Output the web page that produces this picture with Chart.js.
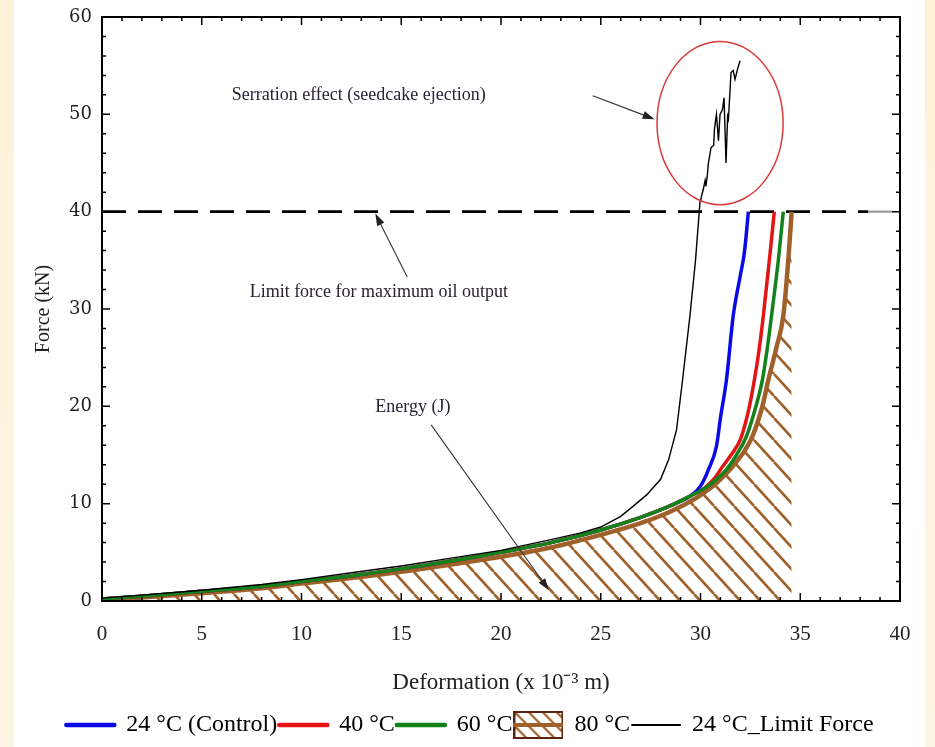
<!DOCTYPE html>
<html>
<head>
<meta charset="utf-8">
<script src="https://cdn.jsdelivr.net/npm/chart.js@4.4.1/dist/chart.umd.min.js"></script>
<style>
html, body { margin: 0; padding: 0; }
body { width: 935px; height: 747px; overflow: hidden; position: relative;
       background: linear-gradient(to bottom, #fdf1d8, #fdf5e3); }
#wrap { position: absolute; left: 14px; top: 0; width: 911px; height: 747px; background: #fff; }
</style>
</head>
<body>
<div id="wrap"><canvas id="c"></canvas></div>
<script>
// ---- data (x: deformation x10^-3 m, y: force kN) ----
const control24 = [[0,0.2],[2,0.5],[5,1.0],[8,1.5],[10,2.0],[12.5,2.6],[15,3.3],[17.5,4.1],[20,5.0],[22.5,6.0],
  [25,7.3],[27,8.6],[28.5,9.8],[29.5,10.8],[30.0,11.8],[30.4,13.5],[30.8,15.9],[31.0,18.8],[31.3,22.7],
  [31.64,29.3],[32.0,33.5],[32.2,35.8],[32.4,40]];
const temp40 = [[0,0.2],[2,0.5],[5,1.0],[8,1.5],[10,2.0],[12.5,2.6],[15,3.3],[17.5,4.1],[20,5.0],[22.5,6.0],
  [25,7.3],[27,8.6],[28.5,9.8],[29.5,10.8],[30.2,11.6],[30.7,12.6],[31.1,13.8],[31.6,15.2],[32.0,16.6],
  [32.4,19.5],[32.7,22.7],[32.95,26],[33.15,29.3],[33.45,35],[33.7,40]];
const temp60 = [[0,0.2],[2,0.5],[5,1.0],[8,1.5],[10,2.0],[12.5,2.6],[15,3.3],[17.5,4.1],[20,5.0],[22.5,6.0],
  [25,7.3],[27,8.6],[28.5,9.8],[29.5,10.8],[30.3,11.7],[30.8,12.5],[31.3,13.5],[31.8,15.0],[32.3,16.9],
  [32.75,19.8],[33.1,22.7],[33.35,26],[33.56,29.3],[33.9,35],[34.15,40]];
const temp80 = [[0,0.1],[2,0.35],[5,0.8],[8,1.3],[10,1.8],[12.5,2.35],[15,3.0],[17.5,3.75],[20,4.55],[22.5,5.5],
  [25,6.8],[27,8.0],[28.5,9.2],[29.8,10.6],[30.5,11.6],[31.0,12.5],[31.6,13.8],[32.2,15.4],[32.6,16.9],
  [33.1,20.0],[33.4,22.7],[33.8,26.0],[34.15,29.3],[34.4,35],[34.57,40]];
const limit24 = [[0,0.3],[2,0.6],[5,1.1],[8,1.7],[10,2.2],[12.5,2.9],[15,3.6],[17.5,4.4],[20,5.2],[22.5,6.3],
  [24,7.0],[25,7.6],[26,8.7],[26.6,9.7],[27.3,10.9],[28,12.5],[28.4,14.5],[28.8,17.6],[29.1,22.7],[29.47,29.3],
  [29.75,35],[29.97,40.9],[30.14,42.3],[30.23,43.2],[30.27,42.6],[30.34,43.7],[30.39,44.9],[30.53,46.6],
  [30.66,46.8],[30.7,48.5],[30.8,50.0],[30.9,47.3],[30.98,50.0],[31.1,50.5],[31.18,51.7],[31.28,45.0],
  [31.36,49.8],[31.4,49.5],[31.53,54.3],[31.64,54.5],[31.73,53.6],[31.85,54.6],[31.98,55.5]];
const limitLine = [[0,40],[38.4,40]];
const limitLineEnd = [[38.4,40],[40,40]];

const legendNames = ['24 °C (Control)', '40 °C', '60 °C', '80 °C', '24 °C_Limit Force'];
const xTickStep = 5, yTickStep = 10;

const BLUE = '#0a0ae6', RED = '#e41414', GREEN = '#13821a', BROWN = '#a0602a', BLACK = '#000';
const SERIF = '"Liberation Serif", "Times New Roman", serif';

// ---- hatch pattern for the 80 °C energy area ----
const canvas = document.getElementById('c');
function hatchTile(w, h, lw) {
    const t = document.createElement('canvas');
    t.width = w; t.height = h;
    const g = t.getContext('2d');
    g.strokeStyle = BROWN; g.lineWidth = lw;
    [-w, 0, w].forEach(dx => { g.beginPath(); g.moveTo(dx, 0); g.lineTo(dx + w, h); g.stroke(); });
    return t;
}
const hatch = canvas.getContext('2d').createPattern(hatchTile(20, 22, 2.6), 'repeat');

// legend icon for 80 °C (hatched box with line through it)
function hatchIcon() {
    const c = document.createElement('canvas');
    c.width = 50; c.height = 28;
    const g = c.getContext('2d');
    g.fillStyle = g.createPattern(hatchTile(14, 14, 2.2), 'repeat');
    g.fillRect(1, 1, 48, 26);
    g.strokeStyle = '#5b2410'; g.lineWidth = 2;
    g.strokeRect(1, 1, 48, 26);
    g.strokeStyle = BROWN; g.lineWidth = 4;
    g.beginPath(); g.moveTo(0, 14); g.lineTo(50, 14); g.stroke();
    return c;
}

// ---- annotations ----
const notes = [
    { text: 'Serration effect (seedcake ejection)', at: [6.5, 52.0], from: [24.6, 51.9], to: [27.7, 49.5] },
    { text: 'Limit force for maximum oil output', at: [7.4, 31.7], from: [15.3, 33.3], to: [13.7, 39.8] },
    { text: 'Energy (J)', at: [13.7, 19.9], from: [16.5, 18.1], to: [22.4, 1.1] },
];
const circle = { c: [30.98, 49.1], r: [3.16, 8.39] };

const framePlugin = {
    id: 'frame',
    afterLayout(chart) {
        // legend in the original sits a little right of centre
        chart.legend.left += 13;
        chart.legend.right += 13;
    },
    afterDatasetsDraw(chart) {
        const { ctx, chartArea: a, scales: { x, y } } = chart;
        ctx.save();
        // red ellipse round the serration
        ctx.strokeStyle = '#d93a3a'; ctx.lineWidth = 1.5;
        ctx.beginPath();
        const cx = x.getPixelForValue(circle.c[0]), cy = y.getPixelForValue(circle.c[1]);
        ctx.ellipse(cx, cy, x.getPixelForValue(circle.c[0] + circle.r[0]) - cx,
            cy - y.getPixelForValue(circle.c[1] + circle.r[1]), 0, 0, Math.PI * 2);
        ctx.stroke();

        // text + arrows
        ctx.fillStyle = '#2a2230'; ctx.strokeStyle = '#333';
        ctx.font = '18px ' + SERIF;
        ctx.textBaseline = 'middle'; ctx.textAlign = 'left';
        notes.forEach(n => {
            ctx.fillText(n.text, x.getPixelForValue(n.at[0]), y.getPixelForValue(n.at[1]));
            const x1 = x.getPixelForValue(n.from[0]), y1 = y.getPixelForValue(n.from[1]);
            const x2 = x.getPixelForValue(n.to[0]), y2 = y.getPixelForValue(n.to[1]);
            const ang = Math.atan2(y2 - y1, x2 - x1);
            ctx.lineWidth = 1.1;
            ctx.beginPath(); ctx.moveTo(x1, y1); ctx.lineTo(x2 - Math.cos(ang) * 8, y2 - Math.sin(ang) * 8); ctx.stroke();
            ctx.beginPath();
            ctx.moveTo(x2, y2);
            ctx.lineTo(x2 - Math.cos(ang) * 12 + Math.sin(ang) * 4, y2 - Math.sin(ang) * 12 - Math.cos(ang) * 4);
            ctx.lineTo(x2 - Math.cos(ang) * 12 - Math.sin(ang) * 4, y2 - Math.sin(ang) * 12 + Math.cos(ang) * 4);
            ctx.closePath(); ctx.fillStyle = '#222'; ctx.fill();
            ctx.fillStyle = '#2a2230';
        });

        // frame with inward ticks
        ctx.strokeStyle = '#000'; ctx.lineWidth = 2;
        ctx.strokeRect(a.left, a.top, a.right - a.left, a.bottom - a.top);
        ctx.lineWidth = 1.5;
        ctx.beginPath();
        for (let v = x.min; v <= x.max; v += 1) {
            const px = x.getPixelForValue(v), len = v % xTickStep === 0 ? 8 : 4;
            ctx.moveTo(px, a.bottom); ctx.lineTo(px, a.bottom - len);
            ctx.moveTo(px, a.top); ctx.lineTo(px, a.top + len);
        }
        for (let v = y.min; v <= y.max; v += 2) {
            const py = y.getPixelForValue(v), len = v % yTickStep === 0 ? 8 : 4;
            ctx.moveTo(a.left, py); ctx.lineTo(a.left + len, py);
            ctx.moveTo(a.right, py); ctx.lineTo(a.right - len, py);
        }
        ctx.stroke();
        ctx.restore();
    }
};

const lineDs = (label, data, color, width, order) => ({
    label, data, order, borderColor: color, backgroundColor: color, borderWidth: width,
    pointRadius: 0, fill: false, cubicInterpolationMode: 'monotone'
});

const legendStyles = [
    { c: BLUE, w: 4.5, s: 'line' }, { c: RED, w: 4.5, s: 'line' }, { c: GREEN, w: 4.5, s: 'line' },
    { c: BROWN, w: 4, s: hatchIcon() }, { c: BLACK, w: 2, s: 'line' }
];

new Chart(canvas, {
    type: 'line',
    data: {
        datasets: [
            lineDs(legendNames[0], control24, BLUE, 3.5, 3),
            lineDs(legendNames[1], temp40, RED, 3.5, 2),
            lineDs(legendNames[2], temp60, GREEN, 3.5, 1),
            { ...lineDs(legendNames[3], temp80, BROWN, 4.5, 4), fill: 'origin', backgroundColor: hatch },
            { ...lineDs(legendNames[4], limit24, BLACK, 1.4, 0), cubicInterpolationMode: 'default', tension: 0 },
            { label: 'limit', data: limitLine, order: 5, borderColor: '#000', borderWidth: 2.6, borderDash: [24, 12],
              pointRadius: 0, fill: false },
            { label: 'limit-end', data: limitLineEnd, order: 5, borderColor: '#9a9a9a', borderWidth: 2.2, borderDash: [24, 12],
              pointRadius: 0, fill: false }
        ]
    },
    options: {
        responsive: true,
        maintainAspectRatio: false,
        animation: false,
        layout: { padding: { top: 17, right: 25, left: 0, bottom: 0 } },
        plugins: {
            tooltip: { enabled: false },
            legend: {
                position: 'bottom',
                labels: {
                    usePointStyle: true,
                    pointStyleWidth: 48,
                    padding: 2,
                    color: '#222',
                    font: { family: SERIF, size: 24 },
                    generateLabels: () => legendNames.map((t, i) => ({
                        text: t, datasetIndex: i, hidden: false,
                        pointStyle: legendStyles[i].s, strokeStyle: legendStyles[i].c,
                        fillStyle: legendStyles[i].c, lineWidth: legendStyles[i].w, lineCap: 'round'
                    }))
                }
            }
        },
        scales: {
            x: {
                type: 'linear', min: 0, max: 40,
                ticks: { stepSize: xTickStep, color: '#222', padding: 21, font: { family: SERIF, size: 21 } },
                grid: { display: false, drawTicks: false },
                border: { display: false },
                title: { display: true, text: 'Deformation (x 10⁻³ m)', color: '#222',
                         font: { family: SERIF, size: 23 }, padding: { top: 0, bottom: 14 } },
                afterFit: s => { s.height = 110; s.paddingLeft = 0; s.paddingRight = 0; }
            },
            y: {
                min: 0, max: 60,
                ticks: { stepSize: yTickStep, color: '#222', padding: 10, font: { family: '"DejaVu Serif", serif', size: 18 } },
                grid: { display: false, drawTicks: false },
                border: { display: false },
                title: { display: true, text: 'Force (kN)', color: '#222',
                         font: { family: SERIF, size: 20 }, padding: { top: 18, bottom: 0 } },
                afterFit: s => { s.width = 88; s.paddingTop = 0; s.paddingBottom = 0; }
            }
        }
    },
    plugins: [framePlugin]
});
</script>
</body>
</html>
